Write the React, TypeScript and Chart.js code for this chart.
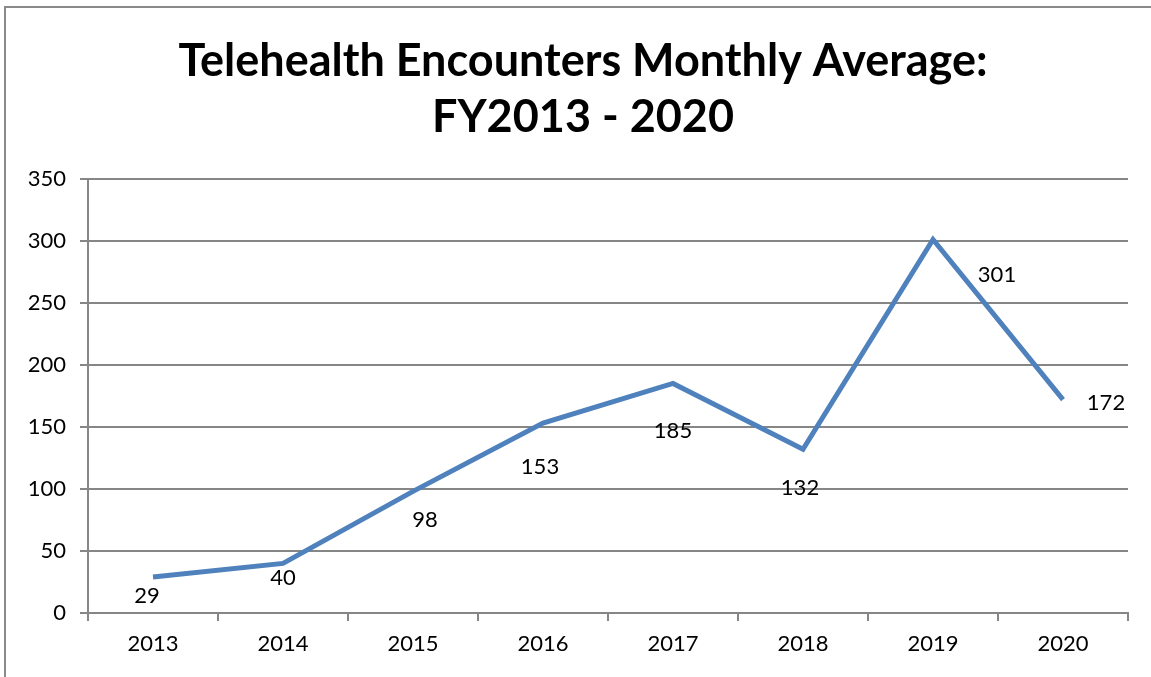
import React, { useEffect, useRef } from "react";
import { Chart, registerables } from "chart.js";

Chart.register(...registerables);

const categories = ["2013", "2014", "2015", "2016", "2017", "2018", "2019", "2020"];
const encounters = [29, 40, 98, 153, 185, 132, 301, 172];
const titleLines = ["Telehealth Encounters Monthly Average:", "FY2013 - 2020"];
// label placement offsets (style only): [dx, dy] in pixels relative to point
const labelOffsets: [number, number][] = [
  [-6, 19],
  [0, 15],
  [12, 29],
  [-3, 44],
  [0, 47],
  [-3, 39],
  [64, 35],
  [43, 3],
];

const FONT = "Lato, 'Noto Sans', sans-serif";

const labelPlugin = {
  id: "pointLabels",
  afterLayout(chart: any) {
    // center title over a slightly shifted band, like the original
    if (chart.titleBlock) {
      chart.titleBlock.left = 38;
    }
  },
  afterDatasetsDraw(chart: any) {
    const ctx = chart.ctx;
    const meta = chart.getDatasetMeta(0);
    ctx.save();
    ctx.font = `22px ${FONT}`;
    ctx.fillStyle = "#000000";
    ctx.textAlign = "center";
    ctx.textBaseline = "middle";
    meta.data.forEach((pt: any, i: number) => {
      const [dx, dy] = labelOffsets[i];
      ctx.fillText(String(encounters[i]), pt.x + dx, pt.y + dy);
    });
    ctx.restore();
  },
};

export default function App() {
  const ref = useRef<HTMLCanvasElement>(null);
  useEffect(() => {
    if (!ref.current) return;
    const chart = new Chart(ref.current, {
      type: "line",
      data: {
        labels: categories,
        datasets: [
          {
            data: encounters,
            borderColor: "#4F81BD",
            borderWidth: 5,
            pointRadius: 0,
            pointHoverRadius: 0,
            tension: 0,
            fill: false,
          },
        ],
      },
      options: {
        animation: false,
        responsive: false,
        maintainAspectRatio: false,
        layout: { padding: { left: 0, right: 23, top: 0, bottom: 0 } },
        plugins: {
          legend: { display: false },
          tooltip: { enabled: false },
          title: {
            display: true,
            text: titleLines,
            color: "#000000",
            font: { family: FONT, size: 45, weight: "bold", lineHeight: 1.23 },
            padding: { top: 34, bottom: 34 },
          },
        },
        scales: {
          x: {
            type: "category",
            offset: true,
            grid: {
              offset: true,
              drawOnChartArea: false,
              drawTicks: true,
              tickLength: 8,
              color: "#868686",
              lineWidth: 2,
            },
            border: { color: "#868686", width: 2 },
            ticks: {
              color: "#000000",
              font: { family: FONT, size: 22 },
              padding: 10,
              maxRotation: 0,
            },
            afterFit(scale: any) {
              scale.height = 64;
            },
          },
          y: {
            min: 0,
            max: 350,
            ticks: {
              stepSize: 50,
              color: "#000000",
              font: { family: FONT, size: 22 },
              padding: 14,
            },
            grid: {
              color: "#868686",
              lineWidth: 2,
              tickLength: 8,
              drawTicks: true,
            },
            border: { color: "#868686", width: 2 },
            afterFit(scale: any) {
              scale.width = 88;
            },
          },
        },
      } as any,
      plugins: [labelPlugin],
    });
    return () => chart.destroy();
  }, []);

  return (
    <div style={{ position: "fixed", left: 0, top: 0, width: 1151, height: 677, background: "#ffffff", overflow: "hidden" }}>
      <div
        style={{
          position: "absolute",
          left: 4,
          top: 6,
          width: 1200,
          height: 700,
          borderLeft: "2px solid #8a8a8a",
          borderTop: "2px solid #8a8a8a",
        }}
      />
      <canvas ref={ref} width={1151} height={677} style={{ position: "absolute", left: 0, top: 0 }} />
    </div>
  );
}
